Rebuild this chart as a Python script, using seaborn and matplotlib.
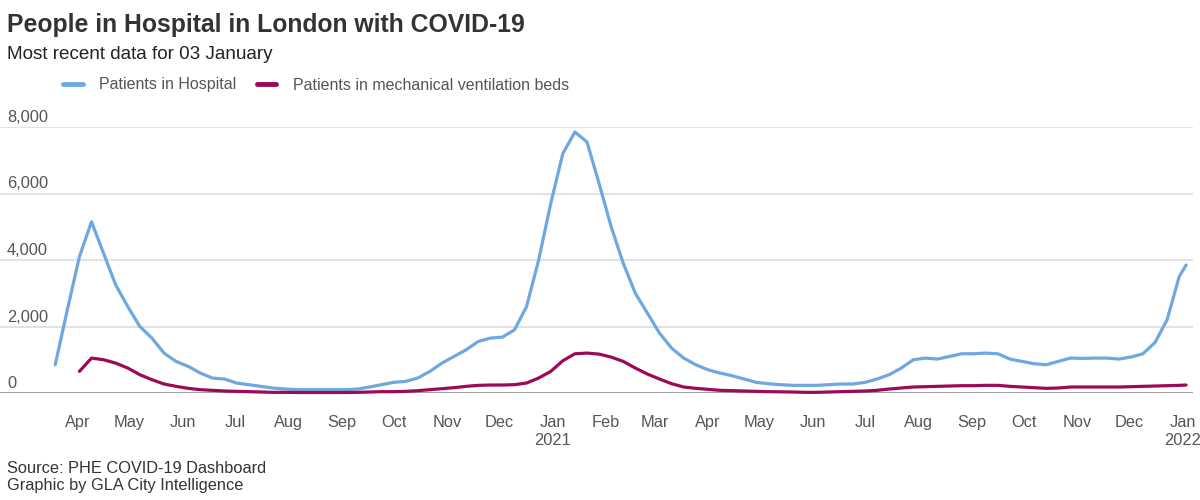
import matplotlib
matplotlib.use("Agg")
import matplotlib.pyplot as plt
from matplotlib.lines import Line2D
import seaborn as sns
import pandas as pd
import numpy as np

# weekly readings from the reference chart (first week 19 Mar 2020) plus the last day
dates = list(pd.date_range("2020-03-19", periods=94, freq="7D")) + [pd.Timestamp("2022-01-03")]

hospital = [
    850, 2500, 4100, 5150, 4200, 3250, 2600, 2000, 1650, 1200, 950, 800, 600, 450, 420,
    300, 250, 200, 150, 120, 100, 100, 100, 100, 100, 120, 180, 250, 320,
    350, 450, 650, 900, 1100, 1300, 1550, 1650, 1680, 1900, 2600, 4000, 5700, 7200, 7850,
    7550, 6300, 5000, 3900, 3000, 2400, 1800, 1350, 1050, 850, 700, 600, 520, 420, 320,
    280, 250, 230,
    230, 230, 250, 270, 270, 320, 420, 550, 750, 1000, 1050, 1020, 1100, 1180, 1180,
    1200, 1180, 1020, 950, 880, 850, 950, 1050, 1040, 1050, 1050, 1020, 1080, 1180,
    1520, 2200, 3500, 3850,
]

ventilation = [
    np.nan, np.nan, 650, 1050, 1000, 900, 750, 550, 400, 270, 200, 140, 100, 80, 60,
    50, 40, 30, 20, 20, 15, 15, 15, 15, 15, 20, 30, 40, 40,
    50, 70, 100, 130, 160, 200, 230, 240, 240, 250, 300, 450, 650, 970, 1180,
    1200, 1170, 1080, 950, 750, 570, 420, 280, 180, 140, 110, 80, 70, 60, 50,
    40, 35, 30,
    20, 20, 30, 40, 50, 60, 80, 120, 150, 180, 190, 200, 210, 220, 220,
    230, 230, 200, 180, 160, 140, 150, 180, 180, 180, 180, 180, 190, 200,
    210, 220, 230, 240,
]

series_names = ["Patients in Hospital", "Patients in mechanical ventilation beds"]
series_colors = ["#6ea8de", "#9b0a57"]
y_ticks = [0, 2000, 4000, 6000, 8000]

df = pd.concat([
    pd.DataFrame({"date": dates, "value": hospital, "series": series_names[0]}),
    pd.DataFrame({"date": dates, "value": ventilation, "series": series_names[1]}),
]).dropna()

sns.set_style("white")
plt.rcParams["font.family"] = ["Liberation Sans", "DejaVu Sans"]

fig = plt.figure(figsize=(12, 5), dpi=100)
ax = fig.add_axes([0.0, 1 - 393 / 500, 1193 / 1200, (393 - 127) / 500])

sns.lineplot(data=df, x="date", y="value", hue="series", hue_order=series_names,
             palette=series_colors, linewidth=2.3, legend=False, ax=ax, clip_on=False)

ax.set_xlim(pd.Timestamp("2020-02-16"), pd.Timestamp("2022-01-07"))
ax.set_ylim(0, 8000)
for s in ax.spines.values():
    s.set_visible(False)

# gridlines and baseline
for v in y_ticks[1:]:
    ax.axhline(v, color="#dddddd", lw=1.2, zorder=0)
ax.axhline(0, color="#8c8c8c", lw=1.2, zorder=1)

# y labels sit above the gridlines
ax.set_yticks([])
for v in y_ticks:
    ax.annotate(f"{v:,}", xy=(0, v), xycoords=("axes fraction", "data"),
                xytext=(7, 5), textcoords="offset pixels", ha="left", va="baseline",
                fontsize=11.8, color="#555555")

ax.set_ylabel("")
ax.set_xlabel("")
ticks = pd.date_range("2020-04-01", "2022-01-01", freq="MS")
ax.set_xticks(ticks)
ax.set_xticklabels([d.strftime("%b") + ("\n" + d.strftime("%Y") if d.month == 1 else "") for d in ticks],
                   fontsize=11.8, color="#555555", va="top", linespacing=1.3)
ax.tick_params(axis="x", length=0, pad=15.5)

# title block
fig.text(7 / 1200, 1 - 32 / 500, "People in Hospital in London with COVID-19", fontsize=17.8,
         fontweight="bold", color="#333333", va="baseline", ha="left")
fig.text(7 / 1200, 1 - 59 / 500, "Most recent data for 03 January", fontsize=13.6,
         color="#222222", va="baseline", ha="left")

handles = [Line2D([0], [0], color=c, lw=3.5) for c in series_colors]
fig.legend(handles, series_names, loc="center left", bbox_to_anchor=(49 / 1200, 1 - 85 / 500),
           ncol=2, frameon=False, fontsize=11.5, handlelength=1.2, handletextpad=1.06,
           columnspacing=1.25, labelcolor="#555555")

fig.text(7 / 1200, 1 - 473 / 500, "Source: PHE COVID-19 Dashboard", fontsize=11.8,
         color="#333333", va="baseline", ha="left")
fig.text(7 / 1200, 1 - 490 / 500, "Graphic by GLA City Intelligence", fontsize=11.8,
         color="#333333", va="baseline", ha="left")

fig.savefig("out.png", dpi=100)
